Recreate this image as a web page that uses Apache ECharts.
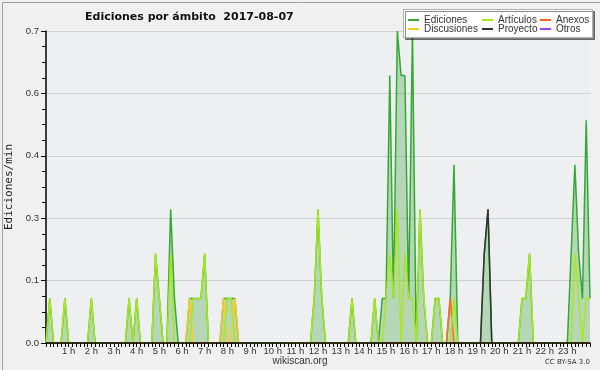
<!DOCTYPE html>
<html>
<head>
<meta charset="utf-8">
<script src="https://cdn.jsdelivr.net/npm/echarts@6/dist/echarts.min.js"></script>
<style>
html,body{margin:0;padding:0;background:#f0f0f0;}
#chart{width:600px;height:370px;}
</style>
</head>
<body>
<div id="chart"></div>
<script>
// 10-minute slots, 00:00 .. 24:00 (145 points), values in edits/min
const hourLabels = ['1 h','2 h','3 h','4 h','5 h','6 h','7 h','8 h','9 h','10 h','11 h','12 h',
  '13 h','14 h','15 h','16 h','17 h','18 h','19 h','20 h','21 h','22 h','23 h'];
const yTicks = [0, 0.14, 0.28, 0.42, 0.56, 0.7];

const ediciones = [
  0,0.1,0,0,0,0.1,      0,0,0,0,0,0,
  0.1,0,0,0,0,0,        0,0,0,0,0.1,0,
  0.1,0,0,0,0,0.2,      0.1,0,0,0.3,0.1,0,
  0,0,0.1,0.1,0.1,0.1,  0.2,0,0,0,0,0.1,
  0.1,0.1,0.1,0,0,0,    0,0,0,0,0,0,
  0,0,0,0,0,0,          0,0,0,0,0,0.1,
  0.3,0.1,0,0,0,0,      0,0,0,0.1,0,0,
  0,0,0,0.1,0,0.1,      0.1,0.6,0.1,0.7,0.6,0.6,
  0.1,0.7,0,0.3,0.1,0,  0,0.1,0.1,0,0,0.1,
  0.4,0,0,0,0,0,        0,0,0.2,0.3,0,0,
  0,0,0,0,0,0,          0.1,0.1,0.2,0,0,0,
  0,0,0,0,0,0,          0,0.2,0.4,0.2,0.1,0.5,
  0.1
];
const articulos = [
  0,0.1,0,0,0,0.1,      0,0,0,0,0,0,
  0.1,0,0,0,0,0,        0,0,0,0,0.1,0,
  0.1,0,0,0,0,0.2,      0.1,0,0,0.2,0,0,
  0,0,0,0.1,0.1,0.1,    0.2,0,0,0,0,0,
  0.1,0.1,0,0,0,0,      0,0,0,0,0,0,
  0,0,0,0,0,0,          0,0,0,0,0,0.1,
  0.3,0.1,0,0,0,0,      0,0,0,0.1,0,0,
  0,0,0,0.1,0,0,        0.1,0.2,0.1,0.3,0,0.2,
  0.1,0.1,0,0.3,0.1,0,  0,0.1,0.1,0,0,0,
  0.1,0,0,0,0,0,        0,0,0,0,0,0,
  0,0,0,0,0,0,          0.1,0.1,0.2,0,0,0,
  0,0,0,0,0,0,          0,0,0.2,0.1,0,0.1,
  0.1
];
const anexos = [
  0,0,0,0,0,0, 0,0,0,0,0,0, 0,0,0,0,0,0, 0,0,0,0,0,0,
  0,0,0,0,0,0, 0,0,0,0,0,0, 0,0,0,0,0,0, 0,0,0,0,0,0,
  0,0,0,0,0,0, 0,0,0,0,0,0, 0,0,0,0,0,0, 0,0,0,0,0,0,
  0,0,0,0,0,0, 0,0,0,0,0,0, 0,0,0,0,0,0, 0,0,0,0,0,0,
  0,0,0,0,0,0, 0,0,0,0,0,0.1, 0,0,0,0,0,0, 0,0,0,0,0,0,
  0,0,0,0,0,0, 0,0,0,0,0,0, 0,0,0,0,0,0, 0,0,0,0,0,0,
  0
];
const discusiones = [
  0,0,0,0,0,0, 0,0,0,0,0,0, 0,0,0,0,0,0, 0,0,0,0,0,0,
  0,0,0,0,0,0, 0,0,0,0,0,0, 0,0,0.1,0,0,0, 0,0,0,0,0,0.1,
  0,0,0.1,0,0,0, 0,0,0,0,0,0, 0,0,0,0,0,0, 0,0,0,0,0,0,
  0,0,0,0,0,0, 0,0,0,0,0,0, 0,0,0,0,0,0, 0,0,0,0,0,0,
  0,0,0,0,0,0, 0,0,0,0,0,0, 0,0,0,0,0,0, 0,0,0,0,0,0,
  0,0,0,0,0,0, 0,0,0,0,0,0, 0,0,0,0,0,0, 0,0,0,0,0,0,
  0
];
const proyecto = [
  0,0,0,0,0,0, 0,0,0,0,0,0, 0,0,0,0,0,0, 0,0,0,0,0,0,
  0,0,0,0,0,0, 0,0,0,0,0,0, 0,0,0,0,0,0, 0,0,0,0,0,0,
  0,0,0,0,0,0, 0,0,0,0,0,0, 0,0,0,0,0,0, 0,0,0,0,0,0,
  0,0,0,0,0,0, 0,0,0,0,0,0, 0,0,0,0,0,0, 0,0,0,0,0,0,
  0,0,0,0,0,0, 0,0,0,0,0,0, 0,0,0,0,0,0, 0,0,0.2,0.3,0,0,
  0,0,0,0,0,0, 0,0,0,0,0,0, 0,0,0,0,0,0, 0,0,0,0,0,0,
  0
];
const otros = [
  0,0,0,0,0,0, 0,0,0,0,0,0, 0,0,0,0,0,0, 0,0,0,0,0,0,
  0,0,0,0,0,0, 0,0,0,0,0,0, 0,0,0,0,0,0, 0,0,0,0,0,0,
  0,0,0,0,0,0, 0,0,0,0,0,0, 0,0,0,0,0,0, 0,0,0,0,0,0,
  0,0,0,0,0,0, 0,0,0,0,0,0, 0,0,0,0,0,0, 0,0,0,0,0,0,
  0,0,0,0,0,0, 0,0,0,0,0,0, 0,0,0,0,0,0, 0,0,0,0,0,0,
  0,0,0,0,0,0, 0,0,0,0,0,0, 0,0,0,0,0,0, 0,0,0,0,0,0,
  0
];

// category slots; hour label at every 6th slot
const slots = [];
for (let i = 0; i <= 144; i++) {
  slots.push(i % 6 === 0 && i > 0 && i < 144 ? hourLabels[i / 6 - 1] : '');
}

const colors = {
  Ediciones: '#36a836', 'Artículos': '#a8e81c', Anexos: '#ff6a22',
  Discusiones: '#ffcc22', Proyecto: '#333333', Otros: '#9a40ff'
};
const legendFont = { fontSize: 10, color: '#333', fontFamily: 'Liberation Sans' };
function leg(name, left, top) {
  return { data: [name], left: left, top: top, padding: 0, itemWidth: 11, itemHeight: 2,
    icon: 'rect', itemGap: 0, textStyle: legendFont, z: 6, selectedMode: false };
}
function lineSeries(name, data, z, width) {
  return { name: name, type: 'line', data: data, showSymbol: false, symbol: 'none',
    lineStyle: { color: colors[name], width: width || 1.5 }, itemStyle: { color: colors[name] },
    z: z, animation: false };
}

const chart = echarts.init(document.getElementById('chart'), null, { renderer: 'canvas' });
chart.setOption({
  backgroundColor: '#f0f0f0',
  animation: false,
  title: {
    text: 'Ediciones por ámbito  2017-08-07', left: 80, top: 7,
    textStyle: { fontSize: 11, fontWeight: 'bold', color: '#111', fontFamily: 'DejaVu Sans' }
  },
  legend: [
    leg('Ediciones', 408, 15), leg('Artículos', 482, 15), leg('Anexos', 540, 15),
    leg('Discusiones', 408, 24), leg('Proyecto', 482, 24), leg('Otros', 540, 24)
  ],
  grid: { left: 46, right: 10, top: 31, bottom: 27, containLabel: false, outerBoundsMode: 'none',
    show: true, backgroundColor: '#edeff1', borderWidth: 0 },
  xAxis: {
    type: 'category', data: slots, boundaryGap: false, z: 3,
    axisLine: { lineStyle: { color: '#000', width: 1.5 } },
    axisTick: { show: true, interval: 0, length: 4, lineStyle: { color: '#000' } },
    axisLabel: { interval: 0, fontSize: 9.5, color: '#333', margin: 3, fontFamily: 'Liberation Sans' },
    splitLine: { show: false }
  },
  yAxis: {
    type: 'value', min: yTicks[0], max: yTicks[yTicks.length - 1], interval: 0.14,
    name: 'Ediciones/min', nameLocation: 'middle', nameGap: 30, nameRotate: 90,
    nameTextStyle: { fontSize: 11, color: '#222', fontFamily: 'DejaVu Sans Mono' },
    axisLine: { show: true, lineStyle: { color: '#000', width: 1.5 } },
    axisTick: { show: true, length: 5, lineStyle: { color: '#000' } },
    minorTick: { show: true, splitNumber: 4, length: 4, lineStyle: { color: '#000' } },
    axisLabel: { fontSize: 9.5, color: '#333', margin: 7, fontFamily: 'Liberation Sans',
      formatter: function (v) { return v.toFixed(1); } },
    splitLine: { show: true, lineStyle: { color: '#cfd0d2', width: 1 } }
  },
  graphic: [
    { type: 'rect', left: 0, top: 0, shape: { x: 0, y: 0, width: 599, height: 369 },
      style: { fill: null, stroke: '#a0a0a0', lineWidth: 1 }, z: 10, silent: true },
    { type: 'rect', shape: { x: 403.5, y: 9.5, width: 189, height: 28 },
      style: { fill: '#ffffff', stroke: '#b0b0b0', lineWidth: 1,
        shadowColor: 'rgba(0,0,0,0.45)', shadowOffsetX: 2, shadowOffsetY: 2, shadowBlur: 0 },
      z: 5, silent: true },
    { type: 'text', x: 300, y: 361, style: { text: 'wikiscan.org', fontSize: 10, fill: '#333',
      align: 'center', verticalAlign: 'middle', fontFamily: 'Liberation Sans' }, z: 10 },
    { type: 'text', x: 590, y: 362, style: { text: 'CC BY-SA 3.0', fontSize: 7, fill: '#333',
      align: 'right', verticalAlign: 'middle', fontFamily: 'DejaVu Sans' }, z: 10 }
  ],
  series: [
    Object.assign(lineSeries('Ediciones', ediciones, 2, 1.5),
      { areaStyle: { color: 'rgba(60,160,60,0.45)' } }),
    lineSeries('Otros', otros, 2),
    lineSeries('Proyecto', proyecto, 2),
    lineSeries('Anexos', anexos, 2),
    lineSeries('Discusiones', discusiones, 2),
    lineSeries('Artículos', articulos, 2)
  ]
});
</script>
</body>
</html>
